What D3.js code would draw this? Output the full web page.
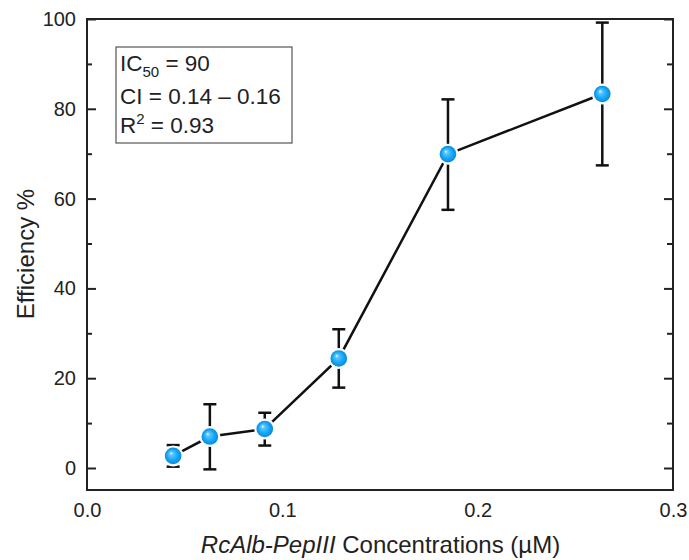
<!DOCTYPE html>
<html>
<head>
<meta charset="utf-8">
<script src="https://cdn.jsdelivr.net/npm/d3@7"></script>
<style>
  body { margin: 0; background: #fff; }
  text { font-family: "Liberation Sans", Arial, sans-serif; fill: #222; }
</style>
</head>
<body>
<svg width="689" height="560"></svg>
<script>
// data
var conc = [0.0441, 0.0629, 0.091, 0.1289, 0.1848, 0.2638];
var eff = [2.7, 7.0, 8.7, 24.4, 69.9, 83.3];
var errHigh = [5.1, 14.2, 12.3, 30.9, 82.1, 99.2];
var errLow = [0.3, -0.3, 5.0, 17.9, 57.5, 67.4];
var xTicks = [0.0, 0.1, 0.2, 0.3];
var yTicks = [0, 20, 40, 60, 80, 100];
var yMinor = [10, 30, 50, 70, 90];

var svg = d3.select('svg');
var mLeft = 87, mRight = 673, mTop = 19, mBottom = 490;

var scaleX = d3.scaleLinear().domain([0, 0.3]).range([mLeft, mRight]);
var scaleY = d3.scaleLinear().domain([-4.9, 100]).range([mBottom, mTop]);

var defs = svg.append('defs');
var grad = defs.append('radialGradient').attr('id', 'ball')
    .attr('cx', '0.5').attr('cy', '0.5').attr('r', '0.5')
    .attr('fx', '0.36').attr('fy', '0.33');
grad.append('stop').attr('offset', '0').attr('stop-color', '#eef9ff');
grad.append('stop').attr('offset', '0.22').attr('stop-color', '#5ac6ff');
grad.append('stop').attr('offset', '0.65').attr('stop-color', '#16a6f7');
grad.append('stop').attr('offset', '1').attr('stop-color', '#0b8ad9');

function styleTicks(g){
    g.select('.domain').remove();
    g.selectAll('line').attr('stroke', '#222').attr('stroke-width', 2);
    g.selectAll('text').attr('font-size', 20).attr('font-family', '"Liberation Sans", Arial, sans-serif').attr('fill', '#222');
}

// left axis, ticks inward
svg.append('g')
    .attr('transform', 'translate(' + mLeft + ',0)')
    .call(d3.axisLeft(scaleY).tickValues(yTicks).tickSize(-9).tickPadding(11).tickFormat(d3.format('d')))
    .call(styleTicks);
svg.append('g')
    .attr('transform', 'translate(' + mLeft + ',0)')
    .call(d3.axisLeft(scaleY).tickValues(yMinor).tickSize(-5).tickFormat(''))
    .call(styleTicks);

// right axis ticks inward
svg.append('g')
    .attr('transform', 'translate(' + mRight + ',0)')
    .call(d3.axisRight(scaleY).tickValues(yTicks).tickSize(-9).tickFormat(''))
    .call(styleTicks);
svg.append('g')
    .attr('transform', 'translate(' + mRight + ',0)')
    .call(d3.axisRight(scaleY).tickValues(yMinor).tickSize(-6).tickFormat(''))
    .call(styleTicks);

// bottom axis labels only
svg.append('g')
    .attr('transform', 'translate(0,' + mBottom + ')')
    .call(d3.axisBottom(scaleX).tickValues(xTicks).tickSize(0).tickPadding(12.5).tickFormat(d3.format('.1f')))
    .call(styleTicks);

// frame
svg.append('rect')
    .attr('x', mLeft).attr('y', mTop)
    .attr('width', mRight - mLeft).attr('height', mBottom - mTop)
    .attr('fill', 'none').attr('stroke', '#222').attr('stroke-width', 2);

// axis titles
svg.append('text')
    .attr('transform', 'translate(34,' + 254 + ') rotate(-90)')
    .attr('text-anchor', 'middle')
    .attr('font-size', 24)
    .text('Efficiency %');

var xt = svg.append('text')
    .attr('x', 380.5).attr('y', 553)
    .attr('text-anchor', 'middle')
    .attr('font-size', 24);
xt.append('tspan').attr('font-style', 'italic').text('RcAlb-PepIII');
xt.append('tspan').text(' Concentrations (\u00b5M)');

// annotation box
svg.append('rect')
    .attr('x', 116).attr('y', 47).attr('width', 176).attr('height', 96)
    .attr('fill', '#fff').attr('stroke', '#555').attr('stroke-width', 1.2);
var ic = svg.append('text').attr('x', 120).attr('y', 71).attr('font-size', 22.5);
ic.append('tspan').text('IC');
ic.append('tspan').attr('font-size', 15).attr('dy', 6).text('50');
ic.append('tspan').attr('dy', -6).text(' = 90');
svg.append('text').attr('x', 120).attr('y', 104).attr('font-size', 22.5).text('CI = 0.14 \u2013 0.16');
var r2 = svg.append('text').attr('x', 120).attr('y', 133).attr('font-size', 22.5);
r2.append('tspan').text('R');
r2.append('tspan').attr('font-size', 15).attr('dy', -9).text('2');
r2.append('tspan').attr('dy', 9).text(' = 0.93');

var pts = conc.map(function(c, i){
    return { x: c, y: eff[i], hi: errHigh[i], lo: errLow[i] };
});

// connecting line
var line = d3.line()
    .x(function(d){ return scaleX(d.x); })
    .y(function(d){ return scaleY(d.y); });
svg.append('path')
    .datum(pts)
    .attr('d', line)
    .attr('fill', 'none')
    .attr('stroke', '#111')
    .attr('stroke-width', 2.5);

// error bars
var eb = svg.selectAll('.err').data(pts).enter().append('g').attr('class', 'err');
eb.append('line')
    .attr('x1', function(d){ return scaleX(d.x); })
    .attr('x2', function(d){ return scaleX(d.x); })
    .attr('y1', function(d){ return scaleY(d.hi); })
    .attr('y2', function(d){ return scaleY(d.lo); })
    .attr('stroke', '#111').attr('stroke-width', 2.5);
eb.append('line')
    .attr('x1', function(d){ return scaleX(d.x) - 6.5; })
    .attr('x2', function(d){ return scaleX(d.x) + 6.5; })
    .attr('y1', function(d){ return scaleY(d.hi); })
    .attr('y2', function(d){ return scaleY(d.hi); })
    .attr('stroke', '#111').attr('stroke-width', 2.5);
eb.append('line')
    .attr('x1', function(d){ return scaleX(d.x) - 6.5; })
    .attr('x2', function(d){ return scaleX(d.x) + 6.5; })
    .attr('y1', function(d){ return scaleY(d.lo); })
    .attr('y2', function(d){ return scaleY(d.lo); })
    .attr('stroke', '#111').attr('stroke-width', 2.5);

// white halo so the lines stop short of the balls
svg.selectAll('.halo').data(pts).enter().append('circle')
    .attr('class', 'halo')
    .attr('cx', function(d){ return scaleX(d.x); })
    .attr('cy', function(d){ return scaleY(d.y); })
    .attr('r', 10.5)
    .attr('fill', '#fff');

// ball markers
svg.selectAll('.ball').data(pts).enter().append('circle')
    .attr('class', 'ball')
    .attr('cx', function(d){ return scaleX(d.x); })
    .attr('cy', function(d){ return scaleY(d.y); })
    .attr('r', 8.3)
    .attr('fill', 'url(#ball)');
</script>
</body>
</html>
